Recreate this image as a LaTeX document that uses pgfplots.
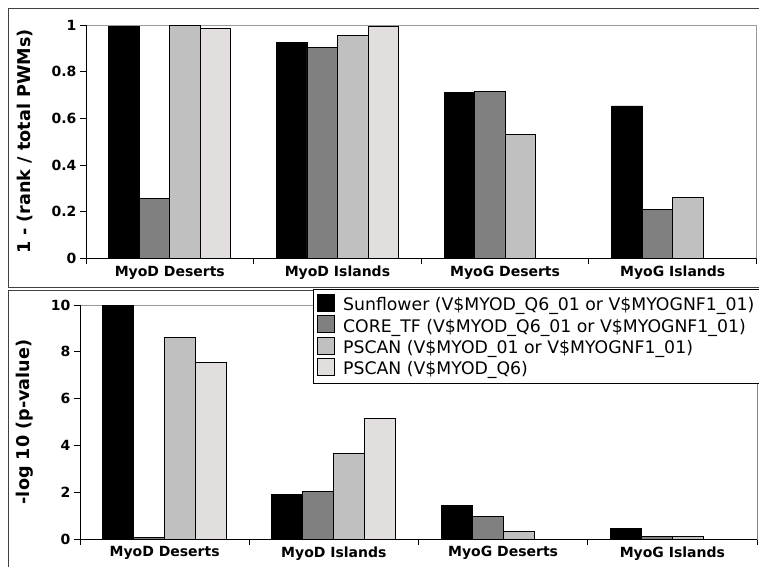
\documentclass[border=0pt]{standalone}
\usepackage{pgfplots}
\pgfplotsset{compat=1.18}
\usepackage{fontspec}
\setmainfont{DejaVu Sans}
\definecolor{cA}{HTML}{000000}
\definecolor{cB}{HTML}{808080}
\definecolor{cC}{HTML}{C0C0C0}
\definecolor{cD}{HTML}{E2DEDE}
\definecolor{framegray}{HTML}{404040}
\definecolor{boxgray}{HTML}{999999}
\pgfplotsset{
  mybars/.style={
    scale only axis, xmin=0, xmax=4, ymin=0,
    ybar,
    axis line style={draw=boxgray, line width=0.8pt},
    xtick={0,1,2,3,4}, xticklabels={,,,,,},
    extra x ticks={0.5,1.5,2.5,3.5},
    extra x tick labels={MyoD Deserts,MyoD Islands,MyoG Deserts,MyoG Islands},
    extra x tick style={major tick length=0pt, tick label style={yshift=-4pt}},
    tick align=outside, xtick pos=left, ytick pos=left,
    major tick length=6pt,
    tick style={black, line width=0.8pt},
    /pgf/number format/assume math mode=true,
    tick label style={font=\bfseries\fontsize{14}{16}\selectfont},
    label style={font=\bfseries\fontsize{17.6}{20}\selectfont},
    every axis plot/.append style={draw=black, line width=0.8pt},
  }
}
\begin{document}
\begin{tikzpicture}
\useasboundingbox (0pt,0pt) rectangle (759pt,566pt);
% panel frames
\draw[framegray, line width=1pt] (770pt,557pt) -- (8pt,557pt) -- (8pt,279pt) -- (770pt,279pt);
\draw[framegray, line width=1pt] (770pt,276pt) -- (8pt,276pt) -- (8pt,-5pt);

\begin{axis}[mybars,
  at={(86pt,307.7pt)}, anchor=south west,
  width=670.5pt, height=233.3pt,
  ymax=1, ytick={0,0.2,0.4,0.6,0.8,1},
  bar width=30.5pt,
  ylabel={1 - (rank / total PWMs)},
  ylabel style={at={(axis description cs:-0.091,0.5)}, anchor=center},
]
\addplot[fill=cA, bar shift=-45.75pt] coordinates {(0.5,0.993) (1.5,0.924) (2.5,0.710) (3.5,0.653)};
\addplot[fill=cB, bar shift=-15.25pt] coordinates {(0.5,0.258) (1.5,0.904) (2.5,0.716) (3.5,0.210)};
\addplot[fill=cC, bar shift=15.25pt] coordinates {(0.5,0.998) (1.5,0.956) (2.5,0.531) (3.5,0.261)};
\addplot[fill=cD, bar shift=45.75pt] coordinates {(0.5,0.986) (1.5,0.994)};
\draw[black, line width=0.8pt] (rel axis cs:0,1) -- (rel axis cs:0,0) -- (rel axis cs:1,0);
\end{axis}

\begin{axis}[mybars,
  at={(80pt,27pt)}, anchor=south west,
  width=677pt, height=234pt,
  ymax=10, ytick={0,2,4,6,8,10},
  bar width=31pt,
  ylabel={-log 10 (p-value)},
  ylabel style={at={(axis description cs:-0.082,0.5)}, anchor=center},
  legend style={at={(0.344,1.068)}, anchor=north west, draw=black, line width=0.8pt,
    font=\fontsize{17.3}{20.5}\selectfont, inner xsep=4pt, inner ysep=4.5pt,
    row sep=1.2pt, cells={anchor=west}},
  legend cell align=left,
  legend image code/.code={\draw[#1, line width=0.8pt] (0pt,-6.5pt) rectangle (17pt,10.5pt); \path (23pt,0pt);},
]
\addplot[fill=cA, bar shift=-46.5pt] coordinates {(0.5,10) (1.5,1.89) (2.5,1.44) (3.5,0.47)};
\addplot[fill=cB, bar shift=-15.5pt] coordinates {(0.5,0.07) (1.5,2.02) (2.5,0.97) (3.5,0.11)};
\addplot[fill=cC, bar shift=15.5pt] coordinates {(0.5,8.60) (1.5,3.65) (2.5,0.31) (3.5,0.11)};
\addplot[fill=cD, bar shift=46.5pt] coordinates {(0.5,7.55) (1.5,5.17)};
\draw[black, line width=0.8pt] (rel axis cs:0,1) -- (rel axis cs:0,0) -- (rel axis cs:1,0) -- (rel axis cs:1,1);
\legend{Sunflower (V\$MYOD\_Q6\_01 or V\$MYOGNF1\_01)\hspace*{12pt},
        CORE\_TF (V\$MYOD\_Q6\_01 or V\$MYOGNF1\_01),
        PSCAN (V\$MYOD\_01 or V\$MYOGNF1\_01),
        PSCAN (V\$MYOD\_Q6)}
\end{axis}
\end{tikzpicture}
\end{document}
